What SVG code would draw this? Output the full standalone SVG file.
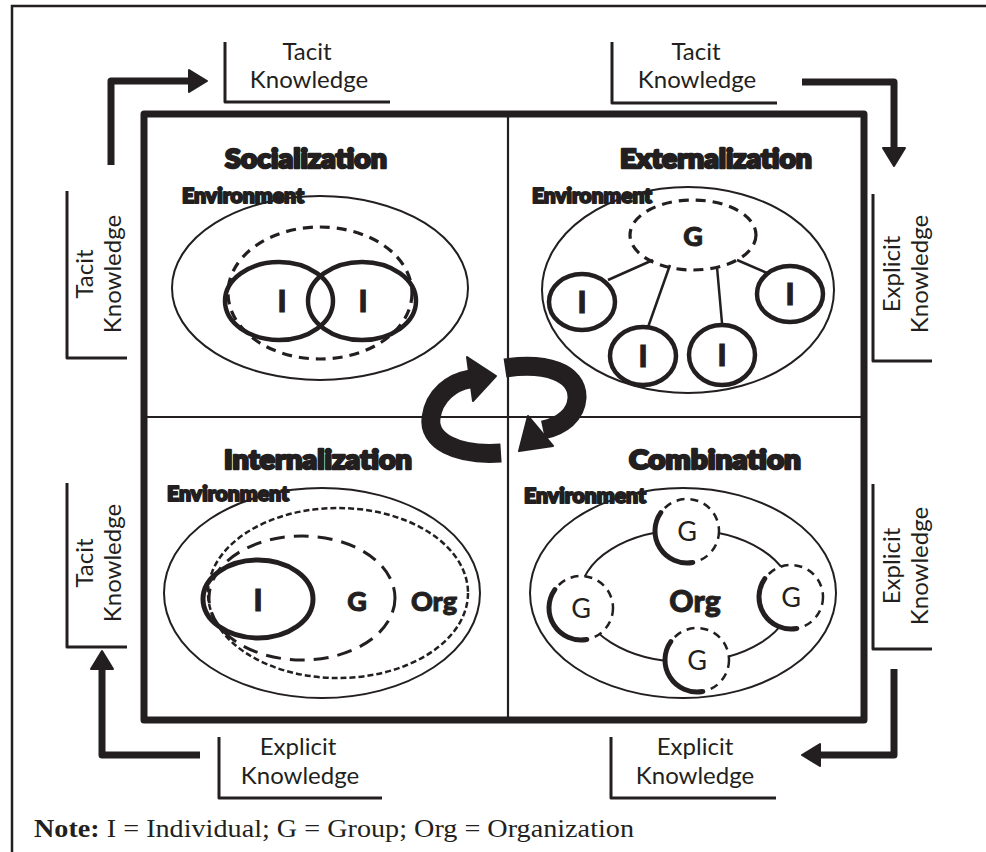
<svg xmlns="http://www.w3.org/2000/svg" width="986" height="852" viewBox="0 0 986 852">
  <style>
    .ink { stroke: #231f20; fill: none; }
    .thin { stroke: #231f20; fill: none; stroke-width: 2; }
    .frame { stroke: #231f20; fill: none; stroke-width: 2.5; }
    .box { stroke: #231f20; fill: none; stroke-width: 7; stroke-linejoin: round; }
    .mid { stroke: #231f20; stroke-width: 2.2; }
    .bracket { stroke: #231f20; fill: none; stroke-width: 3; stroke-linejoin: round; }
    .flow { stroke: #231f20; fill: none; stroke-width: 7; stroke-linejoin: round; }
    .head { fill: #231f20; stroke: #231f20; stroke-width: 2; stroke-linejoin: round; }
    .lab { font-family: Lato, "Open Sans", "Liberation Sans", sans-serif; font-size: 24px; fill: #231f20; text-anchor: middle; }
    .ttl { font-family: Lato, "Liberation Sans", sans-serif; font-weight: 900; font-size: 27px; fill: #231f20; stroke: #231f20; stroke-width: 2.5; stroke-linejoin: round; text-anchor: middle; }
    .env { font-family: Lato, "Liberation Sans", sans-serif; font-weight: 900; font-size: 20px; fill: #231f20; stroke: #231f20; stroke-width: 2; stroke-linejoin: round; }
    .big { font-family: Lato, "Liberation Sans", sans-serif; font-weight: 900; font-size: 30px; fill: #231f20; stroke: #231f20; stroke-width: 1; text-anchor: middle; }
    .g { font-family: Lato, "Open Sans", sans-serif; font-size: 27px; fill: #231f20; text-anchor: middle; }
    .solid { stroke: #231f20; fill: #fff; stroke-width: 4.5; }
    .dash1 { stroke: #231f20; fill: none; stroke-width: 3.2; stroke-dasharray: 10 7; }
    .gcirc { stroke: #231f20; fill: #fff; stroke-width: 2.5; stroke-dasharray: 8 6; }
    .shade { stroke: #231f20; fill: none; stroke-width: 5; stroke-linecap: round; }
    .note { font-family: "Liberation Serif", "Times New Roman", serif; font-size: 25px; fill: #231f20; }
  </style>
  <defs>
    <path id="gShade" class="shade" d="M -26.2 -18.4 A 32 32 0 0 0 5.6 31.5"/>
  </defs>

  <rect width="986" height="852" fill="#fff"/>

  <!-- page frame (open to the right and bottom) -->
  <path class="frame" d="M 12 852 V 6 H 986"/>

  <!-- main matrix -->
  <g id="matrix">
    <rect class="box" x="144" y="114" width="720" height="606"/>
    <line class="mid" x1="508" y1="114" x2="508" y2="720"/>
    <line class="mid" x1="144" y1="417" x2="864" y2="417"/>
  </g>

  <!-- knowledge labels around the matrix -->
  <g id="label-top-left">
    <path class="bracket" d="M 225 42 V 102 H 390"/>
    <text class="lab" x="307" y="60">Tacit</text>
    <text class="lab" x="309" y="88">Knowledge</text>
  </g>
  <g id="label-top-right">
    <path class="bracket" d="M 612 42 V 103 H 777"/>
    <text class="lab" x="696" y="60">Tacit</text>
    <text class="lab" x="697" y="88">Knowledge</text>
  </g>
  <g id="label-left-upper">
    <path class="bracket" d="M 67 191 V 358 H 127"/>
    <text class="lab" transform="translate(99 274) rotate(-90)"><tspan x="0" y="-6">Tacit</tspan><tspan x="0" y="22">Knowledge</tspan></text>
  </g>
  <g id="label-left-lower">
    <path class="bracket" d="M 67 483 V 647 H 127"/>
    <text class="lab" transform="translate(99 563) rotate(-90)"><tspan x="0" y="-6">Tacit</tspan><tspan x="0" y="22">Knowledge</tspan></text>
  </g>
  <g id="label-right-upper">
    <path class="bracket" d="M 873 194 V 361 H 932"/>
    <text class="lab" transform="translate(906 274) rotate(-90)"><tspan x="0" y="-6">Explicit</tspan><tspan x="0" y="22">Knowledge</tspan></text>
  </g>
  <g id="label-right-lower">
    <path class="bracket" d="M 873 484 V 649 H 932"/>
    <text class="lab" transform="translate(906 566) rotate(-90)"><tspan x="0" y="-6">Explicit</tspan><tspan x="0" y="22">Knowledge</tspan></text>
  </g>
  <g id="label-bottom-left">
    <path class="bracket" d="M 219 737 V 798 H 382"/>
    <text class="lab" x="298" y="755">Explicit</text>
    <text class="lab" x="300" y="784">Knowledge</text>
  </g>
  <g id="label-bottom-right">
    <path class="bracket" d="M 611 737 V 798 H 776"/>
    <text class="lab" x="695" y="755">Explicit</text>
    <text class="lab" x="695" y="784">Knowledge</text>
  </g>

  <!-- Socialization -->
  <g id="socialization">
    <text class="ttl" x="306" y="168" textLength="162" lengthAdjust="spacingAndGlyphs">Socialization</text>
    <text class="env" x="182" y="203" textLength="122" lengthAdjust="spacingAndGlyphs">Environment</text>
    <ellipse class="thin" cx="320" cy="288" rx="148" ry="92"/>
    <ellipse class="dash1" cx="320" cy="293" rx="92" ry="66"/>
    <ellipse class="solid" cx="279" cy="301" rx="54" ry="39" style="fill:none"/>
    <ellipse class="solid" cx="362" cy="301" rx="54" ry="39" style="fill:none"/>
    <text class="big" x="282" y="312">I</text>
    <text class="big" x="363" y="312">I</text>
  </g>

  <!-- Externalization -->
  <g id="externalization">
    <text class="ttl" x="716" y="168" textLength="192" lengthAdjust="spacingAndGlyphs">Externalization</text>
    <text class="env" x="532" y="203" textLength="120" lengthAdjust="spacingAndGlyphs">Environment</text>
    <ellipse class="thin" cx="688" cy="290" rx="146" ry="103"/>
  </g>
  <g id="ext-group">
    <ellipse class="dash1" cx="693" cy="235" rx="63" ry="35"/>
    <text class="big" x="693" y="246" style="font-size:27px">G</text>
  </g>

  <g id="connectors">
    <!-- group to individual ties -->
    <g class="ink" stroke-width="2.5">
      <line x1="608" y1="280" x2="653" y2="260"/>
      <line x1="647" y1="330" x2="670" y2="265"/>
      <line x1="722" y1="323" x2="717" y2="267"/>
      <line x1="767" y1="273" x2="737" y2="260"/>
    </g>
    <!-- ring linking the groups of the organization -->
    <ellipse class="thin" cx="686" cy="596" rx="106" ry="66" stroke-width="2.5"/>
    <!-- outer knowledge flow -->
    <path class="flow" d="M 111 165 V 81 H 192"/>
    <polygon class="head" points="189,70 207,81 189,92"/>
    <path class="flow" d="M 802 82 H 894 V 150"/>
    <polygon class="head" points="883,148 894,166 905,148"/>
    <path class="flow" d="M 894 669 V 755 H 818"/>
    <polygon class="head" points="820,744 802,755 820,766"/>
    <path class="flow" d="M 200 755 H 102 V 668"/>
    <polygon class="head" points="91,669 102,651 113,669"/>
    <!-- central cycle -->
    <path class="ink" stroke-width="19" d="M 501 453 C 455 456 428 440 431 418 C 434 395 452 382 470 379"/>
    <polygon class="head" points="467,357 496,376 473,401"/>
    <path class="ink" stroke-width="19" d="M 505 368 C 545 362 578 372 577 398 C 576 415 562 426 543 430"/>
    <polygon class="head" points="528,416 553,446 519,451"/>
  </g>

  <g id="ext-i1"><ellipse class="solid" cx="582" cy="302" rx="33" ry="28"/><text class="big" x="582" y="313">I</text></g>
  <g id="ext-i2"><ellipse class="solid" cx="643" cy="356" rx="33" ry="29"/><text class="big" x="643" y="367">I</text></g>
  <g id="ext-i3"><ellipse class="solid" cx="722" cy="355" rx="33" ry="30"/><text class="big" x="722" y="366">I</text></g>
  <g id="ext-i4"><ellipse class="solid" cx="790" cy="294" rx="33" ry="28"/><text class="big" x="790" y="305">I</text></g>

  <!-- Internalization -->
  <g id="internalization">
    <text class="ttl" x="318" y="469" textLength="188" lengthAdjust="spacingAndGlyphs">Internalization</text>
    <text class="env" x="167" y="501" textLength="122" lengthAdjust="spacingAndGlyphs">Environment</text>
    <ellipse class="thin" cx="322" cy="593" rx="158" ry="105"/>
    <ellipse class="ink" stroke-width="2.5" stroke-dasharray="6 3" cx="338" cy="593" rx="130" ry="85"/>
    <ellipse class="ink" stroke-width="3" stroke-dasharray="15 9" cx="302" cy="598" rx="93" ry="62"/>
    <ellipse class="ink" stroke-width="5" cx="258" cy="599" rx="55" ry="39"/>
    <text class="big" x="258" y="611">I</text>
    <text class="big" x="357" y="611" style="font-size:27px">G</text>
    <text class="big" x="434" y="611" style="font-size:27px">Org</text>
  </g>

  <!-- Combination -->
  <g id="combination">
    <text class="ttl" x="715" y="469" textLength="172" lengthAdjust="spacingAndGlyphs">Combination</text>
    <text class="env" x="524" y="503" textLength="122" lengthAdjust="spacingAndGlyphs">Environment</text>
    <ellipse class="thin" cx="683" cy="593" rx="153" ry="105"/>
    <text class="big" x="695" y="612">Org</text>
  </g>
  <g id="comb-g1" transform="translate(687 531)"><circle class="gcirc" r="32"/><use href="#gShade"/><text class="g" y="10">G</text></g>
  <g id="comb-g2" transform="translate(581 608)"><circle class="gcirc" r="32"/><use href="#gShade"/><text class="g" y="10">G</text></g>
  <g id="comb-g3" transform="translate(791 597)"><circle class="gcirc" r="32"/><use href="#gShade"/><text class="g" y="10">G</text></g>
  <g id="comb-g4" transform="translate(697 660)"><circle class="gcirc" r="32"/><use href="#gShade"/><text class="g" y="10">G</text></g>

  <!-- legend -->
  <text class="note" x="34" y="837" textLength="600" lengthAdjust="spacingAndGlyphs"><tspan font-weight="bold">Note:</tspan> I = Individual; G = Group; Org = Organization</text>
</svg>
